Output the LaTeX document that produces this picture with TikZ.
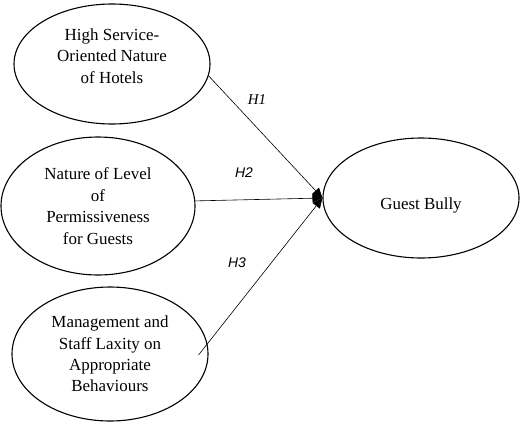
\documentclass[tikz,border=0pt]{standalone}
\usepackage{fontspec}
\setmainfont{Liberation Serif}
\newfontfamily\labsans{Liberation Sans}
\usetikzlibrary{shapes.geometric,arrows.meta}
\begin{document}
\begin{tikzpicture}[x=1bp,y=1bp,
  construct/.style={draw,ellipse,line width=1.1bp,inner sep=0pt},
  ctext/.style={align=center,inner sep=0pt,font=\fontsize{17}{21.5}\selectfont},
  path/.style={line width=0.6bp,-{Triangle[length=10bp,width=9bp]}},
  hyplab/.style={font=\fontsize{15}{16}\selectfont\itshape},
  hypsans/.style={font=\fontsize{14}{16}\selectfont\labsans\itshape}]
\useasboundingbox (0,0) rectangle (520,424);
\node[construct,minimum width=196bp,minimum height=120bp] (e1) at (112,360) {};
\node[ctext] (t1) at ([yshift=8bp]e1.center) {High Service-\\Oriented Nature\\of Hotels};
\node[construct,minimum width=194bp,minimum height=138bp] (e2) at (98,218) {};
\node[ctext] (t2) at (e2.center) {Nature of Level\\of\\Permissiveness\\for Guests};
\node[construct,minimum width=196bp,minimum height=134bp] (e3) at (110,70) {};
\node[ctext] (t3) at (e3.center) {Management and\\Staff Laxity on\\Appropriate\\Behaviours};
\node[construct,minimum width=196bp,minimum height=120bp] (gb) at (421,226) {};
\node[ctext] (tg) at ([yshift=-7bp]gb.center) {Guest Bully};
\coordinate (s3) at ([xshift=-10bp,yshift=-1bp]e3.east);
\draw[path] (e1.-7) -- (gb.west);
\draw[path] (e2.3) -- (gb.west);
\draw[path] (s3) -- (gb.west);
\node[hyplab] (h1) at (257,324) {H1};
\node[hypsans] (h2) at (244,251) {H2};
\node[hypsans] (h3) at (237,161) {H3};
\end{tikzpicture}
\end{document}
